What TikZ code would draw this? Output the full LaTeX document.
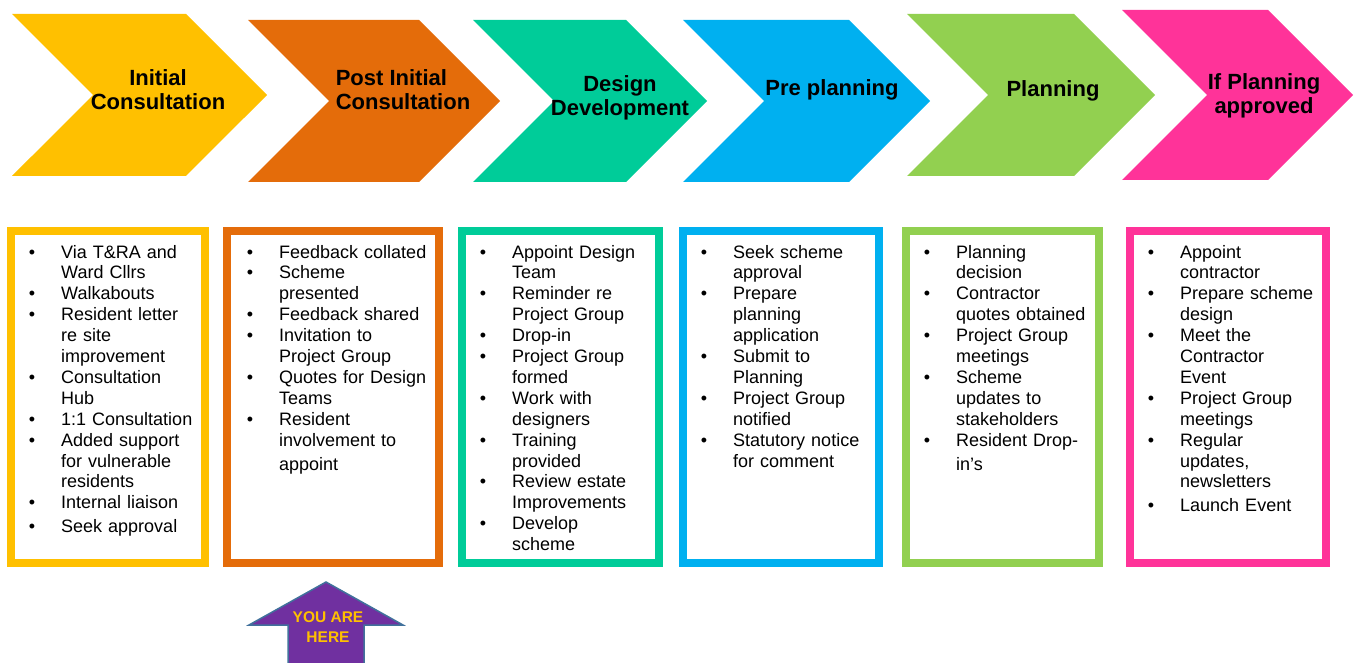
\documentclass[tikz,border=0pt]{standalone}
\usepackage{fontspec}
\setmainfont{Liberation Sans}
\usepackage{enumitem}
\usetikzlibrary{shapes.symbols,positioning}

\definecolor{cyellow}{HTML}{FFC000}
\definecolor{corange}{HTML}{E46C0A}
\definecolor{cgreen}{HTML}{00CC99}
\definecolor{cblue}{HTML}{00B0F0}
\definecolor{clime}{HTML}{92D050}
\definecolor{cpink}{HTML}{FF3399}
\definecolor{cpurple}{HTML}{7030A0}
\definecolor{cedge}{HTML}{41719C}

\setlist[itemize]{leftmargin=45pt,labelsep=26pt,topsep=0pt,partopsep=0pt,itemsep=0pt,parsep=0pt}

\begin{document}
\begin{tikzpicture}[x=1pt,y=-1pt]
  \tikzstyle{chevron}=[signal,signal from=west,signal to=east,signal pointer angle=90,inner sep=0pt,minimum height=162pt]
  \tikzstyle{title}=[font=\fontsize{22}{24}\selectfont\bfseries,align=center,inner sep=0pt]
  \tikzstyle{stagebox}=[draw,line width=8pt,minimum height=332pt,inner sep=0pt]
  \tikzstyle{tasks}=[anchor=north west,text width=200pt,align=left,inner sep=0pt,font=\fontsize{18}{20.9}\selectfont]

  \useasboundingbox (0,0) rectangle (1355,663);

  % stages
  \node[chevron,fill=cyellow,minimum width=255pt] (c1) at (139.5,95) {};
  \node[chevron,fill=corange,minimum width=252pt] (c2) at (374,101) {};
  \node[chevron,fill=cgreen,minimum width=234pt]  (c3) at (590,101) {};
  \node[chevron,fill=cblue,minimum width=247pt]   (c4) at (806.5,101) {};
  \node[chevron,fill=clime,minimum width=248pt]   (c5) at (1031,95) {};
  \node[chevron,fill=cpink,minimum width=231pt,minimum height=170pt] (c6) at (1237.5,95) {};

  \node[title] (t1) at (158,90) {Initial\\Consultation};
  \node[title,align=left] (t2) at (403,90) {Post Initial\\Consultation};
  \node[title] (t3) at (620,98) {Design\\Development};
  \node[title] (t4) at (832,89.5) {Pre planning};
  \node[title] (t5) at (1053,91) {Planning};
  \node[title] (t6) at (1264,96) {If Planning\\approved};

  % boxes
  \node[stagebox,draw=cyellow,minimum width=194pt] (b1) at (108,397) {};
  \node[stagebox,draw=corange,minimum width=212pt] (b2) at (333,397) {};
  \node[stagebox,draw=cgreen,minimum width=197pt]  (b3) at (560.5,397) {};
  \node[stagebox,draw=cblue,minimum width=196pt]   (b4) at (781,397) {};
  \node[stagebox,draw=clime,minimum width=193pt]   (b5) at (1002.5,397) {};
  \node[stagebox,draw=cpink,minimum width=196pt]   (b6) at (1228,397) {};

  \node[tasks] (l1) at ([shift={(9,10)}]b1.north west) {%
    \begin{itemize}
      \item Via T\&RA and\\Ward Cllrs
      \item Walkabouts
      \item Resident letter\\re site\\improvement
      \item Consultation\\Hub
      \item 1:1 Consultation
      \item Added support\\for vulnerable\\residents
      \item Internal liaison\vspace{3pt}
      \item Seek approval
    \end{itemize}};
  \node[tasks] (l2) at ([shift={(11,10)}]b2.north west) {%
    \begin{itemize}
      \item Feedback collated
      \item Scheme\\presented
      \item Feedback shared
      \item Invitation to\\Project Group
      \item Quotes for Design\\Teams
      \item Resident\\involvement to\\[3pt]appoint
    \end{itemize}};
  \node[tasks] (l3) at ([shift={(9,10)}]b3.north west) {%
    \begin{itemize}
      \item Appoint Design\\Team
      \item Reminder re\\Project Group
      \item Drop-in
      \item Project Group\\formed
      \item Work with\\designers
      \item Training\\provided
      \item Review estate\\Improvements
      \item Develop\\scheme
    \end{itemize}};
  \node[tasks] (l4) at ([shift={(9,10)}]b4.north west) {%
    \begin{itemize}
      \item Seek scheme\\approval
      \item Prepare\\planning\\application
      \item Submit to\\Planning
      \item Project Group\\notified
      \item Statutory notice\\for comment
    \end{itemize}};
  \node[tasks] (l5) at ([shift={(9,10)}]b5.north west) {%
    \begin{itemize}
      \item Planning\\decision
      \item Contractor\\quotes obtained
      \item Project Group\\meetings
      \item Scheme\\updates to\\stakeholders
      \item Resident Drop-\\[3pt]in's
    \end{itemize}};
  \node[tasks] (l6) at ([shift={(9,10)}]b6.north west) {%
    \begin{itemize}
      \item Appoint\\contractor
      \item Prepare scheme\\design
      \item Meet the\\Contractor\\Event
      \item Project Group\\meetings
      \item Regular\\updates,\\newsletters\vspace{3pt}
      \item Launch Event
    \end{itemize}};

  % you are here marker
  \draw[fill=cpurple,draw=cedge,line width=1.5pt] (326,582) -- (403,625) -- (364,625) -- (364,666) -- (288,666) -- (288,625) -- (249,625) -- cycle;
  \node[font=\fontsize{15.5}{20}\selectfont\bfseries,text=cyellow,align=center,inner sep=0pt] (here) at (328,627) {YOU ARE\\HERE};
\end{tikzpicture}
\end{document}
